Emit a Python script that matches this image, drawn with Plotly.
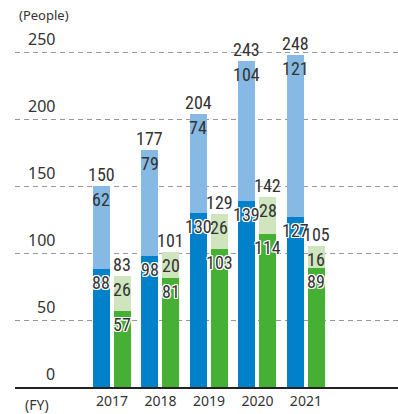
import plotly.graph_objects as go

years = ["2017", "2018", "2019", "2020", "2021"]
blue_base = [88, 98, 130, 139, 127]
blue_top = [62, 79, 74, 104, 121]
green_base = [57, 81, 103, 114, 89]
green_top = [26, 20, 26, 28, 16]
y_ticks = [0, 50, 100, 150, 200, 250]

DARK_BLUE = "#0081c9"
LIGHT_BLUE = "#86b9e4"
DARK_GREEN = "#46b035"
LIGHT_GREEN = "#cfe5bd"
TEXT = "#333333"
LABEL_FONT = "Roboto Condensed, sans-serif"
AXIS_FONT = "Noto Sans, sans-serif"

idx = list(range(len(years)))
off = 0.216
bw = 0.35
xb = [i - off for i in idx]
xg = [i + off for i in idx]

blue_total = [a + b for a, b in zip(blue_base, blue_top)]
green_total = [a + b for a, b in zip(green_base, green_top)]

halo = ("1px 0 0 #fff, -1px 0 0 #fff, 0 1px 0 #fff, 0 -1px 0 #fff, "
        "1px 1px 0 #fff, -1px -1px 0 #fff, 1px -1px 0 #fff, -1px 1px 0 #fff")

fig = go.Figure()
for xs, vals, col in [(xb, blue_base, DARK_BLUE), (xb, blue_top, LIGHT_BLUE),
                      (xg, green_base, DARK_GREEN), (xg, green_top, LIGHT_GREEN)]:
    fig.add_trace(go.Bar(x=xs, y=vals, width=bw, marker=dict(color=col, line=dict(width=0)),
                         hoverinfo="skip", showlegend=False))

annotations = []

def labels(xs, ys, texts, anchor, shift, shadow=None):
    font = dict(family=LABEL_FONT, size=18, color=TEXT)
    if shadow:
        font["shadow"] = shadow
    for x, y, t in zip(xs, ys, texts):
        annotations.append(dict(x=x, y=y, xref="x", yref="y", text=str(t), showarrow=False,
                                xanchor="center", yanchor=anchor, yshift=shift, font=font))

# dark segment values, inside at top with white halo
labels(xb, blue_base, blue_base, "top", -1, halo)
labels(xg, green_base, green_base, "top", -1, halo)
# light segment values, inside at top
labels(xb, blue_total, blue_top, "top", -1)
labels(xg, green_total, green_top, "top", -1)
# totals above the bars
labels(xb, blue_total, blue_total, "bottom", -1)
labels(xg, green_total, green_total, "bottom", -1)

for t in y_ticks:
    annotations.append(dict(x=0.1097, xref="paper", y=t, yref="y", text=str(t),
                            xanchor="right", yanchor="bottom", showarrow=False,
                            font=dict(family=AXIS_FONT, size=16, color=TEXT)))
annotations.append(dict(x=0.005, xref="paper", y=1, yref="paper", yshift=-1, text="(People)",
                        xanchor="left", yanchor="bottom", showarrow=False,
                        font=dict(family=AXIS_FONT, size=13, color=TEXT)))
annotations.append(dict(x=0.02, xref="paper", y=0, yref="paper", yshift=-17, text="(FY)",
                        xanchor="left", yanchor="middle", showarrow=False,
                        font=dict(family=AXIS_FONT, size=14, color=TEXT)))

fig.update_layout(
    width=398, height=414,
    margin=dict(l=15, r=0, t=25, b=27),
    paper_bgcolor="white", plot_bgcolor="white",
    barmode="stack",
    annotations=annotations,
    xaxis=dict(range=[-2.0, 5.9], tickmode="array", tickvals=idx, ticktext=years,
               showgrid=False, zeroline=False, showline=True, linecolor="#222222",
               linewidth=2, ticks="", tickfont=dict(family=AXIS_FONT, size=14, color=TEXT)),
    yaxis=dict(range=[0, 270.15], tickvals=y_ticks, showticklabels=False,
               showgrid=True, gridcolor="#999999", gridwidth=1, griddash="5px,4px",
               zeroline=False, showline=False),
)

fig.write_html("out.html")
